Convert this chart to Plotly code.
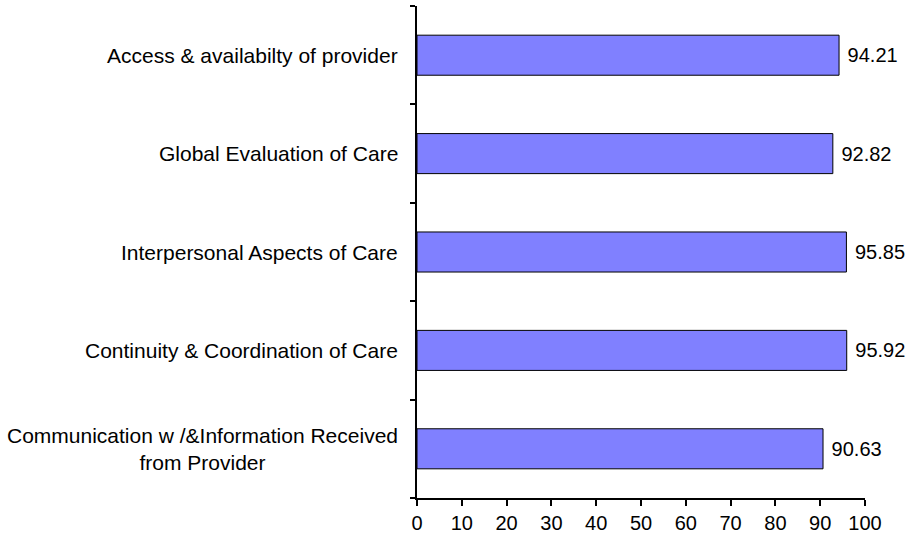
import plotly.graph_objects as go

categories = [
    "Communication w /&Information Received<br>from Provider",
    "Continuity & Coordination of Care",
    "Interpersonal Aspects of Care",
    "Global Evaluation of Care",
    "Access & availabilty of provider",
]
values = [90.63, 95.92, 95.85, 92.82, 94.21]
x_ticks = [0, 10, 20, 30, 40, 50, 60, 70, 80, 90, 100]

FONT = "Liberation Sans, Arial, sans-serif"

fig = go.Figure()
fig.add_trace(go.Bar(
    x=values,
    y=list(range(len(categories))),
    orientation="h",
    marker=dict(color="#8080FF", line=dict(color="black", width=1)),
    text=["\u00a0" + f"{v:.2f}" for v in values],
    textposition="outside",
    textfont=dict(family=FONT, size=20, color="black"),
    cliponaxis=False,
    hoverinfo="skip",
))

for i, c in enumerate(categories):
    fig.add_annotation(
        x=0, xref="paper", y=i, yref="y",
        text=c, showarrow=False, xanchor="right", yanchor="middle",
        align="center", xshift=-17,
        font=dict(family=FONT, size=21, color="black"),
    )

fig.update_layout(
    width=913, height=544,
    margin=dict(l=417, r=48, t=6, b=46),
    paper_bgcolor="white", plot_bgcolor="white",
    bargap=0.593,
    showlegend=False,
    font=dict(family=FONT, size=20, color="black"),
)
fig.update_xaxes(
    range=[0, 100], tickvals=x_ticks, ticks="outside", ticklen=6, tickwidth=1.5,
    tickcolor="black", showline=True, linecolor="black", linewidth=1.5,
    showgrid=False, zeroline=False, fixedrange=True,
    tickfont=dict(family=FONT, size=20, color="black"),
)
fig.update_yaxes(
    range=[-0.5, len(categories) - 0.5],
    tickvals=[i - 0.5 for i in range(len(categories) + 1)],
    showticklabels=False, ticks="outside", ticklen=5, tickwidth=1.5, tickcolor="black",
    showline=True, linecolor="black", linewidth=1.5, showgrid=False, zeroline=False,
    fixedrange=True,
)

fig.write_html(
    "out.html",
    config={"displayModeBar": False},
    post_script="document.body.style.margin='0';document.body.style.overflow='hidden';",
)
